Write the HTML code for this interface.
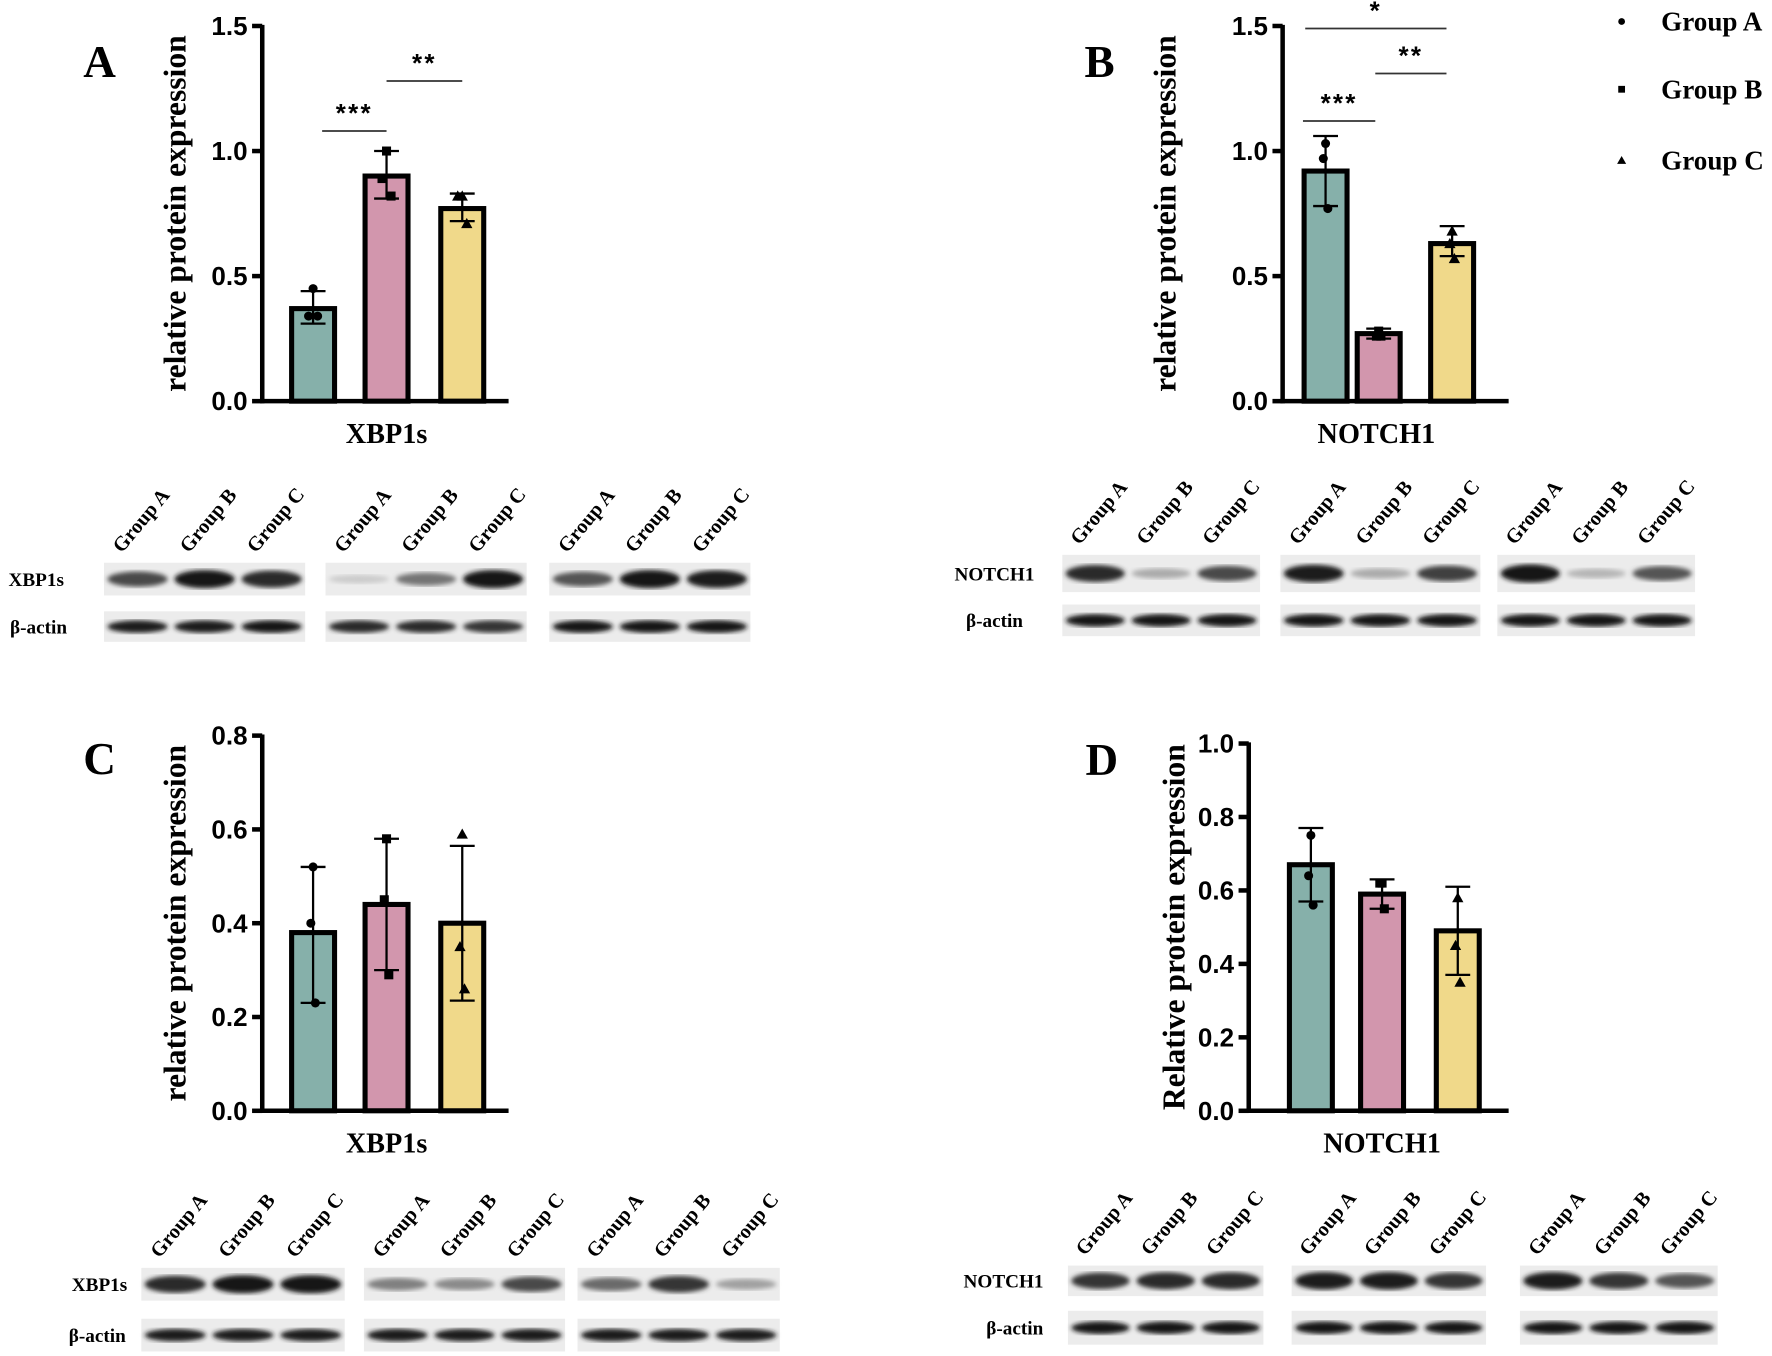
<!DOCTYPE html>
<html><head><meta charset="utf-8">
<style>
html,body{margin:0;padding:0;background:#fff;}
svg{display:block;}
.tick{font-family:"Liberation Sans",Arial,sans-serif;font-weight:bold;font-size:23px;fill:#000;}
.serif{font-family:"Liberation Serif","Times New Roman",serif;font-weight:bold;fill:#000;}
</style></head>
<body>
<svg id="fig" width="1772" height="1356" viewBox="0 0 1568 1200" xmlns="http://www.w3.org/2000/svg">
<defs>
<filter id="blur2"><feGaussianBlur stdDeviation="2.2"/></filter>
</defs>
</svg>
<script>
// ---- data ----
const groups = ["Group A","Group B","Group C"];
const colors = ["#86b0aa","#d296ad","#f0d98a"];
const meansA = [0.37, 0.90, 0.77];
const errLoA = [0.31, 0.81, 0.72];
const errHiA = [0.44, 1.00, 0.83];
const ptsA = [[0.45,0.34,0.34],[1.00,0.89,0.82],[0.82,0.82,0.71]];
const meansB = [0.92, 0.27, 0.63];
const errLoB = [0.78, 0.25, 0.58];
const errHiB = [1.06, 0.29, 0.70];
const ptsB = [[1.03,0.97,0.77],[0.28,0.26,0.26],[0.68,0.63,0.57]];
const meansC = [0.38, 0.44, 0.40];
const errLoC = [0.23, 0.30, 0.235];
const errHiC = [0.52, 0.58, 0.565];
const ptsC = [[0.52,0.40,0.23],[0.58,0.45,0.29],[0.59,0.35,0.26]];
const meansD = [0.67, 0.59, 0.49];
const errLoD = [0.57, 0.55, 0.37];
const errHiD = [0.77, 0.63, 0.61];
const ptsD = [[0.75,0.64,0.56],[0.62,0.62,0.55],[0.58,0.45,0.35]];
const ticksAB = ["0.0","0.5","1.0","1.5"];
const ticksC = ["0.0","0.2","0.4","0.6","0.8"];
const ticksD = ["0.0","0.2","0.4","0.6","0.8","1.0"];
// band intensities (0..1 darkness) per blot: [target lanes], [actin lanes]
const bandsA = [[[0.75,1,0.9],[0.95,0.95,1]],[[0.15,0.55,1],[0.9,0.9,0.85]],[[0.7,1,0.95],[1,1,1]]];
const bandsB = [[[0.9,0.3,0.75],[1,1,1]],[[0.95,0.3,0.8],[1,1,1]],[[1,0.25,0.7],[1,1,1]]];
const bandsC = [[[0.9,1,1],[0.95,0.95,0.95]],[[0.5,0.45,0.75],[0.95,0.95,0.95]],[[0.6,0.85,0.35],[0.95,0.95,0.95]]];
const bandsD = [[[0.85,0.9,0.9],[1,1,1]],[[0.95,0.95,0.85],[1,1,1]],[[0.95,0.85,0.7],[1,1,1]]];

const NS="http://www.w3.org/2000/svg";
const svg=document.getElementById('fig');
function mk(tag,attrs,parent){const e=document.createElementNS(NS,tag);for(const k in attrs)e.setAttribute(k,attrs[k]);(parent||svg).appendChild(e);return e;}
function txt(s,attrs,parent){const e=mk('text',attrs,parent);e.textContent=s;return e;}

function panel(cfg){
  const g=mk('g',{});
  
  
  const y=v=>cfg.y0-(v/cfg.max)*(cfg.y0-cfg.yTop);
  const ax=mk('line',{x1:cfg.ax,y1:cfg.yTop-1,x2:cfg.ax,y2:cfg.y0+2,stroke:'#000','stroke-width':4},g);
  
  
  const xa=mk('line',{x1:cfg.ax-2,y1:cfg.y0,x2:cfg.axEnd,y2:cfg.y0,stroke:'#000','stroke-width':4},g);
  
  
  cfg.ticks.forEach(t=>{
    const v=parseFloat(t),yy=y(v);
    mk('line',{x1:cfg.ax-9,y1:yy,x2:cfg.ax,y2:yy,stroke:'#000','stroke-width':4},g);
    const tl=txt(t,{x:cfg.ax-13,y:yy+8,'text-anchor':'end',class:'tick'},g);
    
    
  });
  const yl=txt(cfg.ylabel,{x:0,y:0,class:'serif','font-size':28,'text-anchor':'middle',transform:`translate(${cfg.ylx},${(cfg.y0+cfg.yTop)/2}) rotate(-90)`},g);
  
  
  const lt=txt(cfg.letter,{x:cfg.lx,y:cfg.ly,class:'serif','font-size':40,'text-anchor':'middle'},g);
  
  
  const xt=txt(cfg.xlabel,{x:cfg.xlx,y:cfg.y0+37,class:'serif','font-size':25,'text-anchor':'middle'},g);
  
  
  const bw=38;
  cfg.means.forEach((m,i)=>{
    const cx=cfg.cx[i];
    const b=mk('rect',{x:cx-bw/2,y:y(m),width:bw,height:cfg.y0-y(m),fill:colors[i],stroke:'#000','stroke-width':4.5},g);
    
    
    const lo=y(cfg.lo[i]),hi=y(cfg.hi[i]);
    const eb=mk('path',{d:`M${cx},${lo}V${hi}M${cx-11},${lo}H${cx+11}M${cx-11},${hi}H${cx+11}`,stroke:'#000','stroke-width':2,fill:'none'},g);
    
    
    cfg.pts[i].forEach((p,k)=>{
      const px=cx+[0,-4,4][k]*(cfg.spread?1:0.5), py=y(p);
      let s;
      if(i===0) s=mk('circle',{cx:px,cy:py,r:4,fill:'#000'},g);
      else if(i===1) s=mk('rect',{x:px-4,y:py-4,width:8,height:8,fill:'#000'},g);
      else s=mk('path',{d:`M${px},${py-5}L${px+5},${py+4}L${px-5},${py+4}Z`,fill:'#000'},g);
      
      
    });
  });
  (cfg.sig||[]).forEach(sg=>{
    const yy=y(sg.v);
    const l=mk('line',{x1:cfg.cx[sg.a]+sg.da,y1:yy,x2:cfg.cx[sg.b]+sg.db,y2:yy,stroke:'#333','stroke-width':1.5},g);
    
    
    const st=txt(sg.s,{x:(cfg.cx[sg.a]+sg.da+cfg.cx[sg.b]+sg.db)/2,y:yy-8,'text-anchor':'middle',class:'tick','font-size':20,'letter-spacing':2},g);
    
    
  });
}

panel({name:'chart-a',letter:'A',lx:88,ly:68,ax:232,axEnd:450,y0:355,yTop:23,max:1.5,ticks:ticksAB,ylabel:'relative protein expression',ylx:164,xlabel:'XBP1s',xlx:342,
  cx:[277,342,409],means:meansA,lo:errLoA,hi:errHiA,pts:ptsA,spread:true,
  sig:[{a:0,b:1,da:8,db:0,v:1.08,s:'***'},{a:1,b:2,da:0,db:0,v:1.28,s:'**'}]});
panel({name:'chart-b',letter:'B',lx:973,ly:68,ax:1135,axEnd:1335,y0:355,yTop:23,max:1.5,ticks:ticksAB,ylabel:'relative protein expression',ylx:1040,xlabel:'NOTCH1',xlx:1218,
  cx:[1173,1220,1285],means:meansB,lo:errLoB,hi:errHiB,pts:ptsB,spread:false,
  sig:[{a:0,b:1,da:-20,db:-3,v:1.12,s:'***'},{a:1,b:2,da:-3,db:-5,v:1.31,s:'**'},{a:0,b:2,da:-18,db:-5,v:1.49,s:'*'}]});
panel({name:'chart-c',letter:'C',lx:88,ly:685,ax:232,axEnd:450,y0:983,yTop:651,max:0.8,ticks:ticksC,ylabel:'relative protein expression',ylx:164,xlabel:'XBP1s',xlx:342,
  cx:[277,342,409],means:meansC,lo:errLoC,hi:errHiC,pts:ptsC,spread:false});
panel({name:'chart-d',letter:'D',lx:975,ly:686,ax:1105,axEnd:1335,y0:983,yTop:658,max:1.0,ticks:ticksD,ylabel:'Relative protein expression',ylx:1048,xlabel:'NOTCH1',xlx:1223,
  cx:[1160,1223,1290],means:meansD,lo:errLoD,hi:errHiD,pts:ptsD,spread:false});

// legend
const lg=mk('g',{});


[19,79,142].forEach((yy,i)=>{
  if(i===0) mk('circle',{cx:1435,cy:yy,r:3,fill:'#000'},lg);
  else if(i===1) mk('rect',{x:1432,y:yy-3,width:6,height:6,fill:'#000'},lg);
  else mk('path',{d:`M1435,${yy-4}L1439,${yy+3}L1431,${yy+3}Z`,fill:'#000'},lg);
  const t=txt(groups[i],{x:1470,y:yy+8,class:'serif','font-size':24},lg);
  
  
});

// blots
function blot(cfg){
  const g=mk('g',{});
  
  
  const l1=txt(cfg.label,{x:cfg.lblx,y:cfg.r1[0]+(cfg.r1[1]-cfg.r1[0])/2+6,class:'serif','font-size':17,'text-anchor':'middle'},g);
  
  
  const l2=txt('β-actin',{x:cfg.lblx2,y:cfg.r2[0]+(cfg.r2[1]-cfg.r2[0])/2+6,class:'serif','font-size':17,'text-anchor':'middle'},g);
  
  
  cfg.boxes.forEach((bx,bi)=>{
    const w=bx[1]-bx[0];
    [cfg.r1,cfg.r2].forEach((r,ri)=>{
      const rr=mk('rect',{x:bx[0],y:r[0],width:w,height:r[1]-r[0],fill:'#ececec'},g);
      
      
      cfg.bands[bi][ri].forEach((d,li)=>{
        const cx=bx[0]+w*(li+0.5)/3;
        const c=Math.round(235-215*d);
        const e=mk('ellipse',{cx:cx,cy:(r[0]+r[1])/2,rx:w/6-3,ry:ri===0?3+5*d:5.5,fill:`rgb(${c},${c},${c})`,filter:'url(#blur2)'},g);
        
        
      });
    });
    groups.forEach((gn,li)=>{
      const cx=bx[0]+w*(li+0.5)/3;
      const t=txt(gn,{x:0,y:0,class:'serif','font-size':18,transform:`translate(${cx-14},${cfg.r1[0]-8}) rotate(-50)`},g);
      
      
    });
  });
}
blot({name:'blot-a',label:'XBP1s',lblx:32,lblx2:34,r1:[498,527],r2:[541,568],boxes:[[92,270],[288,466],[486,664]],bands:bandsA});
blot({name:'blot-b',label:'NOTCH1',lblx:880,lblx2:880,r1:[491,524],r2:[535,563],boxes:[[940,1115],[1133,1310],[1325,1500]],bands:bandsB});
blot({name:'blot-c',label:'XBP1s',lblx:88,lblx2:86,r1:[1122,1151],r2:[1167,1196],boxes:[[125,305],[322,500],[511,690]],bands:bandsC});
blot({name:'blot-d',label:'NOTCH1',lblx:888,lblx2:898,r1:[1120,1147],r2:[1160,1190],boxes:[[945,1118],[1143,1315],[1345,1520]],bands:bandsD});
</script>
</body></html>
